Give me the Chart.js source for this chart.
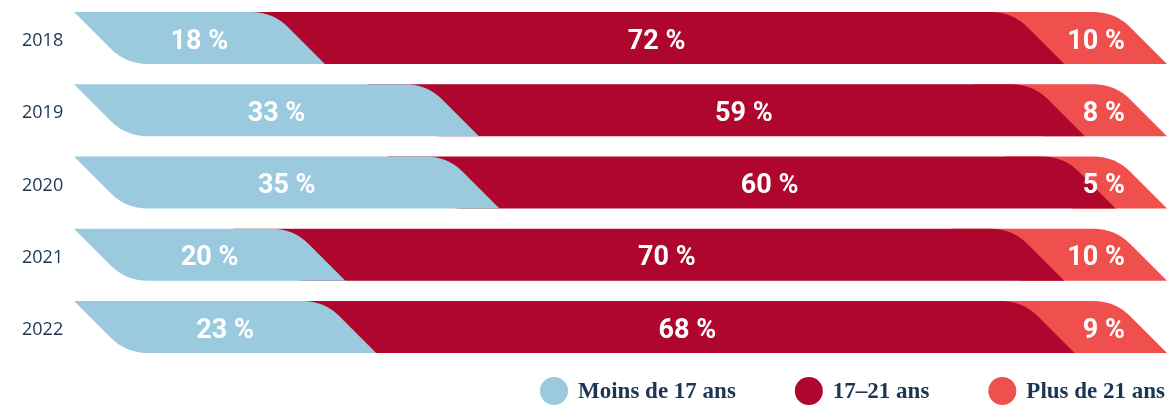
<!DOCTYPE html>
<html>
<head>
<meta charset="utf-8">
<script src="https://cdn.jsdelivr.net/npm/chart.js@4.4.1/dist/chart.umd.min.js"></script>
<style>
  html, body { margin: 0; padding: 0; background: #fff; }
  #wrap { position: relative; width: 1167px; height: 407px; }
</style>
</head>
<body>
<div id="wrap"><canvas id="chart"></canvas></div>
<script>
const years = ['2018', '2019', '2020', '2021', '2022'];
const under17 = [18, 33, 35, 20, 23];
const age17to21 = [72, 59, 60, 70, 68];
const over21 = [10, 8, 5, 10, 9];
const seriesNames = ['Moins de 17 ans', '17–21 ans', 'Plus de 21 ans'];
const seriesColors = ['#9bc9de', '#af062e', '#ef504e'];

const LEAD = 14;     // bars begin a little before zero
const RADIUS = 52;   // rounding of the obtuse corners
const TUCK = 60;     // later segments start hidden under the previous one
const NAVY = '#1c3553';

function slantPath(ctx, x0, x1, top, bottom) {
  const s = bottom - top;
  ctx.beginPath();
  ctx.moveTo(x0 - s, top);
  ctx.arcTo(x1 - s, top, x1, bottom, RADIUS);
  ctx.lineTo(x1, bottom);
  ctx.arcTo(x0, bottom, x0 - s, top, RADIUS);
  ctx.closePath();
}

const slantBars = {
  id: 'slantBars',
  beforeDatasetsDraw(chart) {
    const ctx = chart.ctx;
    const metas = chart.data.datasets.map((d, i) => chart.getDatasetMeta(i));
    ctx.save();
    years.forEach((y, i) => {
      for (let d = metas.length - 1; d >= 0; d--) {
        const bar = metas[d].data[i];
        const start = d === 0 ? bar.base - LEAD : bar.base - TUCK;
        slantPath(ctx, start, bar.x, bar.y - bar.height / 2, bar.y + bar.height / 2);
        ctx.fillStyle = chart.data.datasets[d].backgroundColor;
        ctx.fill();
      }
    });
    ctx.restore();
    return false;
  },
  afterDraw(chart) {
    const ctx = chart.ctx;
    const sets = chart.data.datasets;
    ctx.save();

    // value labels
    ctx.font = 'bold 27px Roboto';
    ctx.fillStyle = '#fff';
    ctx.textBaseline = 'middle';
    sets.forEach((ds, d) => {
      const meta = chart.getDatasetMeta(d);
      meta.data.forEach((bar, i) => {
        const s = bar.height;
        const x0 = d === 0 ? bar.base - LEAD : bar.base;
        const text = ds.data[i] + ' %';
        let x;
        if (d === sets.length - 1) {
          ctx.textAlign = 'right';
          x = bar.x - 42;
        } else {
          ctx.textAlign = 'center';
          x = (x0 + bar.x) / 2 - s / 2 - (d === 0 ? 0 : 12);
        }
        ctx.fillText(text, x, bar.y + 4);
      });
    });

    // legend, right aligned
    ctx.font = 'bold 23px "Liberation Serif"';
    ctx.textAlign = 'left';
    const cy = chart.chartArea.bottom + 28;
    let right = chart.width - 2;
    for (let d = sets.length - 1; d >= 0; d--) {
      const tw = ctx.measureText(sets[d].label).width;
      const tx = right - tw;
      ctx.fillStyle = NAVY;
      ctx.fillText(sets[d].label, tx, cy + 1);
      ctx.beginPath();
      ctx.arc(tx - 24, cy, 14, 0, Math.PI * 2);
      ctx.fillStyle = sets[d].backgroundColor;
      ctx.fill();
      right = tx - 24 - 14 - 59;
    }
    ctx.restore();
  }
};

new Chart(document.getElementById('chart'), {
  type: 'bar',
  data: {
    labels: years,
    datasets: [
      { label: seriesNames[0], data: under17, backgroundColor: seriesColors[0] },
      { label: seriesNames[1], data: age17to21, backgroundColor: seriesColors[1] },
      { label: seriesNames[2], data: over21, backgroundColor: seriesColors[2] }
    ]
  },
  options: {
    indexAxis: 'y',
    responsive: true,
    maintainAspectRatio: false,
    devicePixelRatio: 1,
    animation: false,
    barPercentage: 0.72,
    categoryPercentage: 1,
    layout: { padding: { top: 2, bottom: 44, left: 22, right: -8 } },
    plugins: { legend: { display: false }, tooltip: { enabled: false } },
    scales: {
      x: { stacked: true, display: false, min: 0, max: 100 },
      y: {
        stacked: true,
        grid: { display: false, drawTicks: false },
        border: { display: false },
        ticks: {
          padding: 0,
          crossAlign: 'far',
          labelOffset: 3,
          color: NAVY,
          font: { family: '"Open Sans"', size: 18, lineHeight: 0.2 }
        },
        afterFit(scale) { scale.width = 118; }
      }
    }
  },
  plugins: [slantBars]
});
</script>
</body>
</html>
